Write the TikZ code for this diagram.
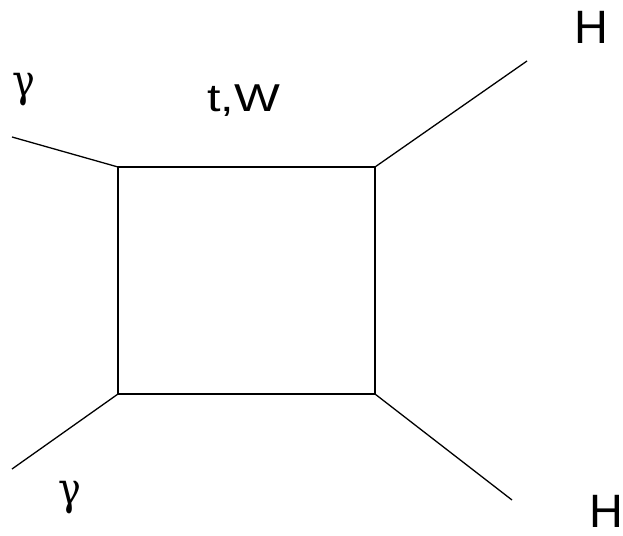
\documentclass[tikz,border=0pt]{standalone}
\usepackage{fontspec}
\setmainfont{Liberation Sans}
\newfontfamily\greekfont{DejaVu Serif}
\newcommand{\gammasym}{\scalebox{0.85}[1]{γ}}
\newcommand{\wideText}[1]{\scalebox{1.25}[1]{#1}}
\begin{document}
\begin{tikzpicture}[x=1bp,y=-1bp,
  leg/.style={line width=1.3bp, black},
  boxline/.style={line width=1.3bp, black},
  gam/.style={inner sep=0pt, outer sep=0pt, font=\greekfont\fontsize{45}{45}\selectfont},
  bigH/.style={inner sep=0pt, outer sep=0pt, anchor=base west, font=\fontsize{47}{47}\selectfont},
  loopl/.style={inner sep=0pt, outer sep=0pt, anchor=base west, font=\fontsize{39}{39}\selectfont}]
\useasboundingbox[fill=white] (0,0) rectangle (623,536);
% vertices
\coordinate (tl) at (118,167);
\coordinate (tr) at (375,167);
\coordinate (br) at (375,394);
\coordinate (bl) at (118,394);
% external ends
\coordinate (g1) at (12,137);
\coordinate (g2) at (12,469);
\coordinate (h1) at (527,61);
\coordinate (h2) at (512,500);
% box
\draw[boxline] (tl) -- (tr) -- (br) -- (bl) -- cycle;
% legs
\draw[leg] (g1) -- (tl);
\draw[leg] (g2) -- (bl);
\draw[leg] (tr) -- (h1);
\draw[leg] (br) -- (h2);
% labels
\node[gam] (lg1) at (24,90) {\gammasym};
\node[gam] (lg2) at (70,498) {\gammasym};
\node[loopl] (ltw) at (207,112) {\wideText{t,W}};
\node[bigH] (lh1) at (574,44) {H};
\node[bigH] (lh2) at (589,527) {H};
\end{tikzpicture}
\end{document}
